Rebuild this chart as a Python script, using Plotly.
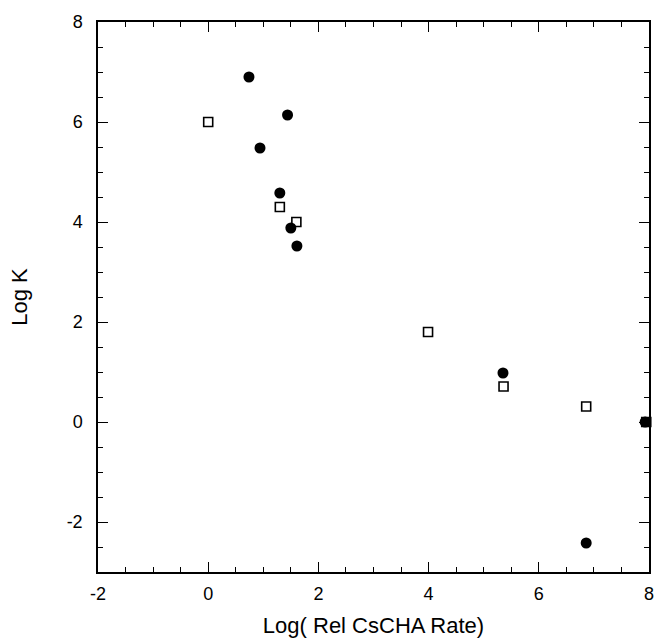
import plotly.graph_objects as go

# Filled circles
circ_x = [0.74, 1.44, 0.94, 1.30, 1.50, 1.61, 5.35, 6.86, 7.93]
circ_y = [6.90, 6.14, 5.48, 4.58, 3.88, 3.52, 0.98, -2.42, 0.0]
# Open squares
sq_x = [0.0, 1.30, 1.60, 3.99, 5.36, 6.86, 7.95]
sq_y = [6.0, 4.30, 4.00, 1.80, 0.71, 0.31, 0.0]

x_ticks = [-2, 0, 2, 4, 6, 8]
y_ticks = [-2, 0, 2, 4, 6, 8]

fig = go.Figure()
fig.add_trace(go.Scatter(x=sq_x, y=sq_y, mode="markers",
                         marker=dict(symbol="square", size=9, color="white",
                                     line=dict(color="black", width=1.6)),
                         cliponaxis=False, showlegend=False))
fig.add_trace(go.Scatter(x=circ_x, y=circ_y, mode="markers",
                         marker=dict(symbol="circle", size=11, color="black",
                                     line=dict(width=0)),
                         cliponaxis=False, showlegend=False))

fam = "Liberation Sans, Arial, sans-serif"
tickfont = dict(family=fam, size=18, color="black")
titlefont = dict(family=fam, size=22, color="black")
axis_common = dict(showgrid=False, zeroline=False, showline=True, linecolor="black",
                   linewidth=1.5, mirror="allticks", ticks="inside", ticklen=10,
                   tickwidth=1.3, tickcolor="black", tickfont=tickfont,
                   automargin=False, ticklabeloverflow="allow",
                   minor=dict(ticks="inside", ticklen=5, tickwidth=1.3,
                              tickcolor="black", dtick=0.5, showgrid=False))

fig.update_layout(
    template="none",
    width=654, height=639,
    margin=dict(l=98, r=5, t=22, b=67),
    paper_bgcolor="white", plot_bgcolor="white",
    font=dict(family=fam, color="black"),
    xaxis=dict(range=[-2, 8], tickvals=x_ticks, ticktext=[str(v) for v in x_ticks],
               ticklabelstandoff=5,
               title=dict(text="Log( Rel CsCHA Rate)", font=titlefont, standoff=14),
               **axis_common),
    yaxis=dict(range=[-3, 8], tickvals=y_ticks, ticktext=[str(v) for v in y_ticks],
               ticklabelstandoff=10,
               title=dict(text="Log K", font=titlefont, standoff=33),
               **axis_common),
)
fig.write_html("out.html",
               config={"displayModeBar": False},
               post_script="document.body.style.margin='0';"
                           "document.body.style.overflow='hidden';")
